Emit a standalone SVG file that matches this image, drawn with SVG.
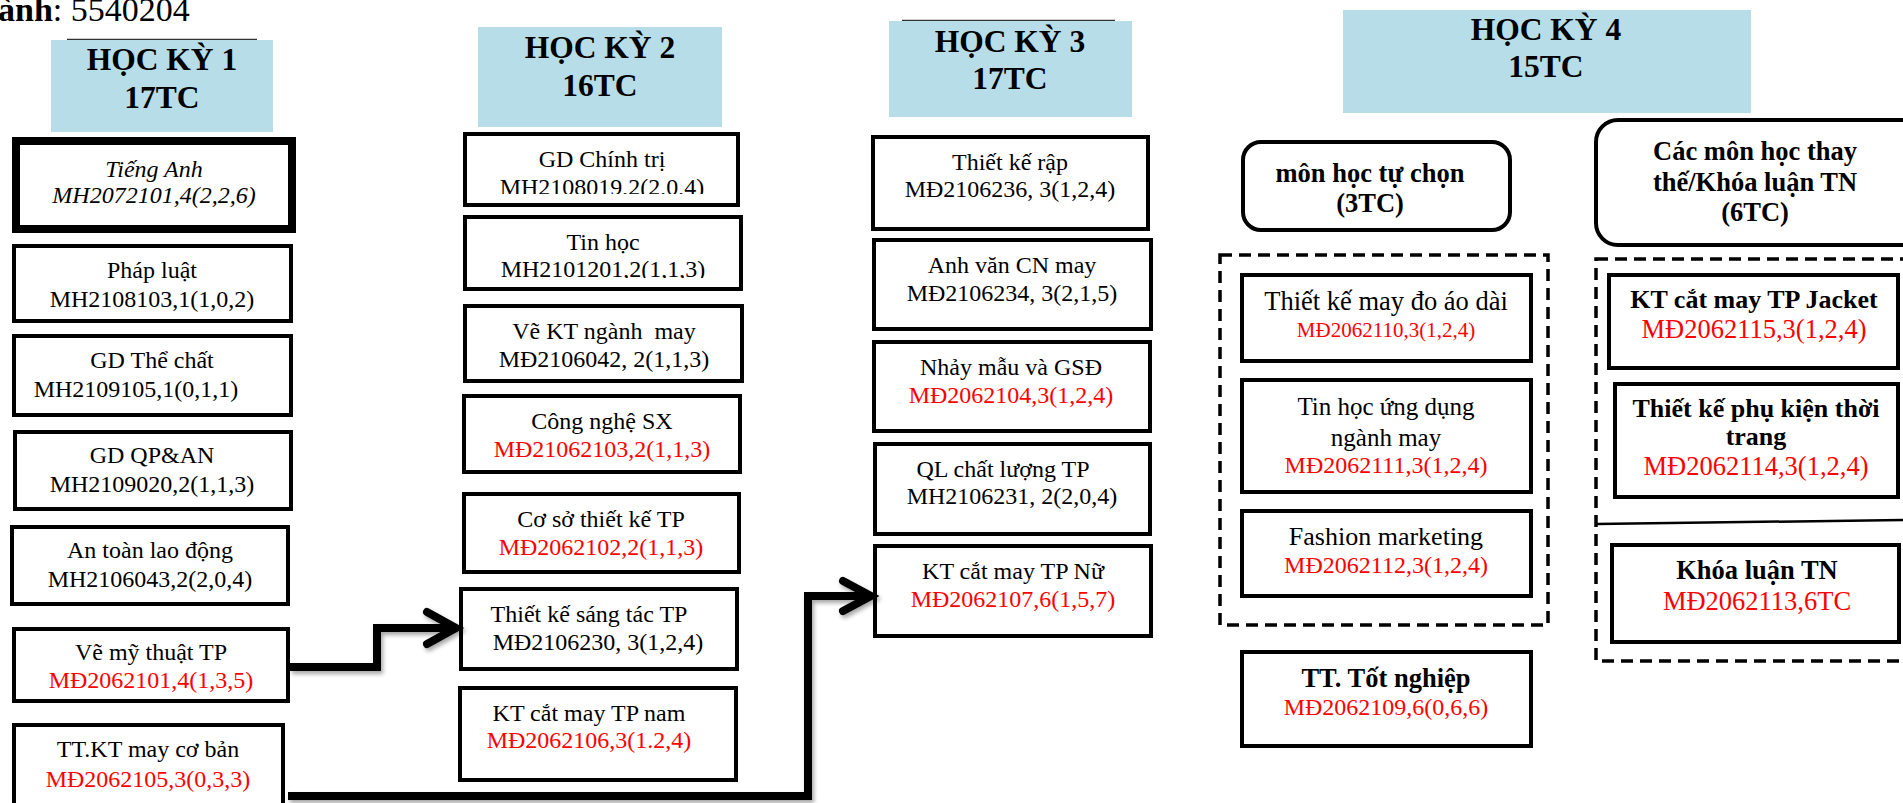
<svg xmlns="http://www.w3.org/2000/svg" width="1903" height="803" viewBox="0 0 1903 803">
<style>
text{font-family:"Liberation Serif","Times New Roman",serif;text-anchor:middle;fill:#000}
.t{font-size:24px}
.r{fill:#ff0000}
.b{font-weight:bold}
.h{font-size:31.5px;font-weight:bold}
.hdr{fill:#b7dde8}
.box{fill:#fff;stroke:#000;stroke-width:4}
.rb{fill:#fff;stroke:#000;stroke-width:4}
.dash{fill:none;stroke:#000;stroke-width:3.5;stroke-dasharray:12 7}
.conn{fill:none;stroke:#000;stroke-width:8;stroke-linejoin:miter}
.head{fill:none;stroke:#000;stroke-width:8;stroke-linecap:round;stroke-linejoin:miter}
</style>
<defs>
<filter id="sh" x="-10%" y="-10%" width="130%" height="140%">
<feDropShadow dx="2" dy="3" stdDeviation="2" flood-color="#000" flood-opacity="0.35"/>
</filter>
<clipPath id="c1"><rect x="465" y="134" width="273" height="60"/></clipPath>
<clipPath id="c2"><rect x="465" y="217" width="276" height="61"/></clipPath>
</defs>
<rect width="1903" height="803" fill="#fff"/>

<g id="title">
<text x="-2" y="21" style="font-size:34px;text-anchor:start"><tspan font-weight="bold">ành</tspan>: 5540204</text>
</g>

<g id="hk1">
<line x1="67" y1="39.5" x2="257" y2="39.5" stroke="#333" stroke-width="1.5"/>
<rect class="hdr" x="51" y="40" width="222" height="92"/>
<text class="h" x="162" y="70">HỌC KỲ 1</text>
<text class="h" x="162" y="108">17TC</text>
</g>
<g id="hk2">
<rect class="hdr" x="478" y="27" width="244" height="100"/>
<text class="h" x="600" y="58">HỌC KỲ 2</text>
<text class="h" x="600" y="96">16TC</text>
</g>
<g id="hk3">
<line x1="902" y1="20.5" x2="1115" y2="20.5" stroke="#333" stroke-width="1.5"/>
<rect class="hdr" x="889" y="21" width="243" height="96"/>
<text class="h" x="1010" y="52">HỌC KỲ 3</text>
<text class="h" x="1010" y="89">17TC</text>
</g>
<g id="hk4">
<rect class="hdr" x="1343" y="10" width="408" height="103"/>
<text class="h" x="1546" y="40">HỌC KỲ 4</text>
<text class="h" x="1546" y="77">15TC</text>
</g>

<!-- Column 1 -->
<g id="tieng-anh">
<rect x="16" y="141" width="276" height="88" fill="#fff" stroke="#000" stroke-width="8"/>
<text class="t" x="154" y="177" font-style="italic">Tiếng Anh</text>
<text class="t" x="154" y="203" font-style="italic">MH2072101,4(2,2,6)</text>
</g>
<g id="phap-luat">
<rect class="box" x="14" y="246" width="277" height="75"/>
<text class="t" x="152" y="278">Pháp luật</text>
<text class="t" x="152" y="307">MH2108103,1(1,0,2)</text>
</g>
<g id="gd-the-chat">
<rect class="box" x="14" y="336" width="277" height="79"/>
<text class="t" x="152" y="368">GD Thể chất</text>
<text class="t" x="136" y="397">MH2109105,1(0,1,1)</text>
</g>
<g id="gd-qpan">
<rect class="box" x="15" y="432" width="276" height="77"/>
<text class="t" x="152" y="463">GD QP&amp;AN</text>
<text class="t" x="152" y="492">MH2109020,2(1,1,3)</text>
</g>
<g id="an-toan">
<rect class="box" x="12" y="527" width="276" height="77"/>
<text class="t" x="150" y="558">An toàn lao động</text>
<text class="t" x="150" y="587">MH2106043,2(2,0,4)</text>
</g>
<g id="ve-my-thuat">
<rect class="box" x="14" y="629" width="274" height="72"/>
<text class="t" x="151" y="660">Vẽ mỹ thuật TP</text>
<text class="t r" x="151" y="688">MĐ2062101,4(1,3,5)</text>
</g>
<g id="tt-kt-may">
<rect class="box" x="14" y="725" width="269" height="100"/>
<text class="t" x="148" y="757">TT.KT may cơ bản</text>
<text class="t r" x="148" y="787">MĐ2062105,3(0,3,3)</text>
</g>

<!-- Column 2 -->
<g id="gd-chinh-tri">
<rect class="box" x="465" y="134" width="273" height="71"/>
<text class="t" x="602" y="167">GD Chính trị</text>
<text class="t" x="602" y="194.5" clip-path="url(#c1)">MH2108019,2(2,0,4)</text>
</g>
<g id="tin-hoc">
<rect class="box" x="465" y="217" width="276" height="72"/>
<text class="t" x="603" y="250">Tin học</text>
<text class="t" x="603" y="277" clip-path="url(#c2)">MH2101201,2(1,1,3)</text>
</g>
<g id="ve-kt">
<rect class="box" x="465" y="306" width="277" height="75"/>
<text class="t" x="604" y="339" xml:space="preserve">Vẽ KT ngành  may</text>
<text class="t" x="604" y="367">MĐ2106042, 2(1,1,3)</text>
</g>
<g id="cong-nghe-sx">
<rect class="box" x="464" y="396" width="276" height="76"/>
<text class="t" x="602" y="429">Công nghệ SX</text>
<text class="t r" x="602" y="457">MĐ21062103,2(1,1,3)</text>
</g>
<g id="co-so-tk">
<rect class="box" x="464" y="494" width="275" height="78"/>
<text class="t" x="601" y="527">Cơ sở thiết kế TP</text>
<text class="t r" x="601" y="555">MĐ2062102,2(1,1,3)</text>
</g>
<g id="tk-sang-tac">
<rect class="box" x="461" y="589" width="276" height="80"/>
<text class="t" x="589" y="622">Thiết kế sáng tác TP</text>
<text class="t" x="598" y="650">MĐ2106230, 3(1,2,4)</text>
</g>
<g id="kt-nam">
<rect class="box" x="460" y="688" width="276" height="92"/>
<text class="t" x="589" y="721">KT cắt may TP nam</text>
<text class="t r" x="589" y="748">MĐ2062106,3(1.2,4)</text>
</g>

<!-- Column 3 -->
<g id="tk-rap">
<rect class="box" x="873" y="137" width="275" height="92"/>
<text class="t" x="1010" y="170">Thiết kế rập</text>
<text class="t" x="1010" y="197">MĐ2106236, 3(1,2,4)</text>
</g>
<g id="anh-van">
<rect class="box" x="874" y="240" width="277" height="89"/>
<text class="t" x="1012" y="273">Anh văn CN may</text>
<text class="t" x="1012" y="301">MĐ2106234, 3(2,1,5)</text>
</g>
<g id="nhay-mau">
<rect class="box" x="874" y="342" width="276" height="89"/>
<text class="t" x="1011" y="375">Nhảy mẫu và GSĐ</text>
<text class="t r" x="1011" y="403">MĐ2062104,3(1,2,4)</text>
</g>
<g id="ql-chat-luong">
<rect class="box" x="875" y="444" width="275" height="90"/>
<text class="t" x="1003" y="477">QL chất lượng TP</text>
<text class="t" x="1012" y="504">MH2106231, 2(2,0,4)</text>
</g>
<g id="kt-nu">
<rect class="box" x="875" y="546" width="276" height="90"/>
<text class="t" x="1013" y="579">KT cắt may TP Nữ</text>
<text class="t r" x="1013" y="607">MĐ2062107,6(1,5,7)</text>
</g>

<!-- Column 4 -->
<g id="tu-chon">
<rect class="rb" x="1243" y="142" width="267" height="88" rx="18"/>
<text class="b" x="1370" y="182" font-size="26.5">môn học tự chọn</text>
<text class="b" x="1370" y="212" font-size="26.5">(3TC)</text>
</g>
<g id="thay-the">
<rect class="rb" x="1596" y="120" width="340" height="125" rx="22"/>
<text class="b" x="1755" y="160" font-size="26.5">Các môn học thay</text>
<text class="b" x="1755" y="191" font-size="26.5">thế/Khóa luận TN</text>
<text class="b" x="1755" y="221" font-size="26.5">(6TC)</text>
</g>
<g id="nhom-tu-chon">
<rect class="dash" x="1220" y="255" width="328" height="370"/>
</g>
<g id="nhom-thay-the">
<rect class="dash" x="1596" y="259" width="340" height="402"/>
<line x1="1596" y1="524" x2="1903" y2="520" stroke="#000" stroke-width="2.5"/>
</g>
<g id="ao-dai">
<rect class="box" x="1242" y="275" width="289" height="86"/>
<text x="1386" y="310" font-size="26.5">Thiết kế may đo áo dài</text>
<text class="r" x="1386" y="337" font-size="21">MĐ2062110,3(1,2,4)</text>
</g>
<g id="tin-hoc-ud">
<rect class="box" x="1242" y="380" width="289" height="112"/>
<text x="1386" y="415" font-size="25">Tin học ứng dụng</text>
<text x="1386" y="446" font-size="25">ngành may</text>
<text class="r" x="1386" y="473" font-size="24">MĐ2062111,3(1,2,4)</text>
</g>
<g id="fashion">
<rect class="box" x="1242" y="511" width="289" height="85"/>
<text x="1386" y="545" font-size="26">Fashion marketing</text>
<text class="r" x="1386" y="573" font-size="24">MĐ2062112,3(1,2,4)</text>
</g>
<g id="tt-tot-nghiep">
<rect class="box" x="1242" y="652" width="289" height="94"/>
<text class="b" x="1386" y="687" font-size="26.5">TT. Tốt nghiệp</text>
<text class="r" x="1386" y="715" font-size="24">MĐ2062109,6(0,6,6)</text>
</g>
<g id="jacket">
<rect class="box" x="1609" y="275" width="289" height="93"/>
<text class="b" x="1754" y="308" font-size="26">KT cắt may TP Jacket</text>
<text class="r" x="1754" y="338" font-size="26.5">MĐ2062115,3(1,2,4)</text>
</g>
<g id="phu-kien">
<rect class="box" x="1615" y="384" width="283" height="113"/>
<text class="b" x="1756" y="417" font-size="26">Thiết kế phụ kiện thời</text>
<text class="b" x="1756" y="445" font-size="26">trang</text>
<text class="r" x="1756" y="475" font-size="26.5">MĐ2062114,3(1,2,4)</text>
</g>
<g id="khoa-luan">
<rect class="box" x="1612" y="545" width="287" height="97"/>
<text class="b" x="1757" y="579" font-size="26.5">Khóa luận TN</text>
<text class="r" x="1757" y="610" font-size="26.5">MĐ2062113,6TC</text>
</g>

<g id="connectors" filter="url(#sh)">
<path class="conn" d="M290 667 H377 V628 H452"/>
<path class="head" d="M427 612 L456 628 L427 644"/>
<path class="conn" d="M288 796 H808 V596 H868"/>
<path class="head" d="M843 581 L871 596 L843 611"/>
</g>
</svg>
